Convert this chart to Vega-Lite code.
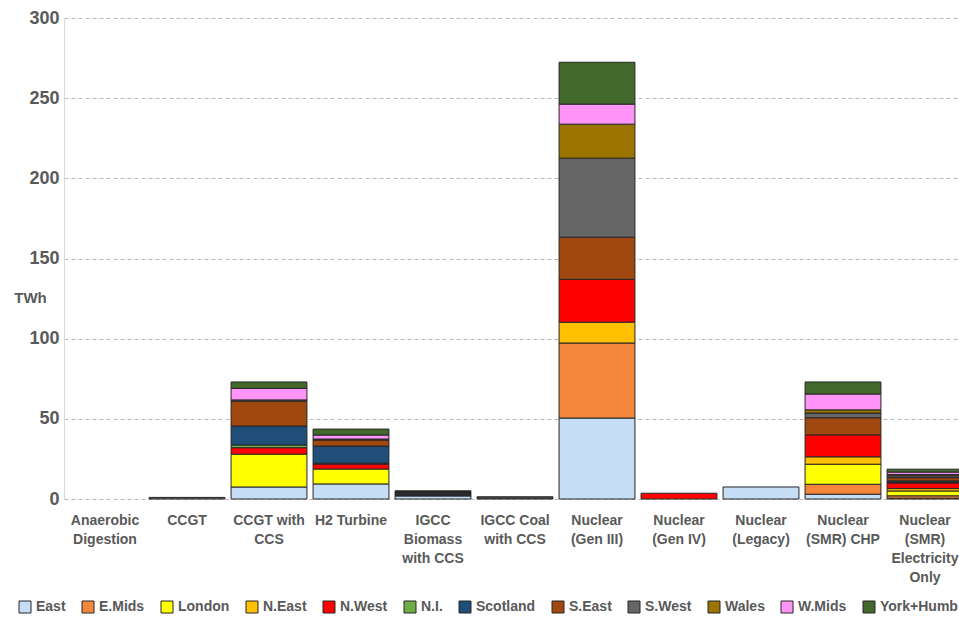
{
  "$schema": "https://vega.github.io/schema/vega-lite/v6.json",
  "autosize": "none",
  "width": 895,
  "height": 481,
  "padding": {"left": 64, "top": 18, "right": 0, "bottom": 118},
  "background": "white",
  "config": {
    "view": {"stroke": null},
    "font": "Liberation Sans"
  },
  "datasets": {
    "regionOrder": [
      {"region": "East", "rank": 1},
      {"region": "E.Mids", "rank": 2},
      {"region": "London", "rank": 3},
      {"region": "N.East", "rank": 4},
      {"region": "N.West", "rank": 5},
      {"region": "N.I.", "rank": 6},
      {"region": "Scotland", "rank": 7},
      {"region": "S.East", "rank": 8},
      {"region": "S.West", "rank": 9},
      {"region": "Wales", "rank": 10},
      {"region": "W.Mids", "rank": 11},
      {"region": "York+Humb", "rank": 12}
    ]
  },
  "data": {
    "values": [
      {"tech": "CCGT", "region": "S.West", "twh": 1.0},
      {"tech": "CCGT with CCS", "region": "East", "twh": 7.5},
      {"tech": "CCGT with CCS", "region": "London", "twh": 20.5},
      {"tech": "CCGT with CCS", "region": "N.West", "twh": 4.0},
      {"tech": "CCGT with CCS", "region": "N.I.", "twh": 1.7},
      {"tech": "CCGT with CCS", "region": "Scotland", "twh": 11.8},
      {"tech": "CCGT with CCS", "region": "S.East", "twh": 15.5},
      {"tech": "CCGT with CCS", "region": "S.West", "twh": 0.8},
      {"tech": "CCGT with CCS", "region": "W.Mids", "twh": 7.2},
      {"tech": "CCGT with CCS", "region": "York+Humb", "twh": 4.0},
      {"tech": "H2 Turbine", "region": "East", "twh": 9.4},
      {"tech": "H2 Turbine", "region": "London", "twh": 9.3},
      {"tech": "H2 Turbine", "region": "N.West", "twh": 3.1},
      {"tech": "H2 Turbine", "region": "N.I.", "twh": 0.5},
      {"tech": "H2 Turbine", "region": "Scotland", "twh": 10.7},
      {"tech": "H2 Turbine", "region": "S.East", "twh": 3.8},
      {"tech": "H2 Turbine", "region": "S.West", "twh": 0.6},
      {"tech": "H2 Turbine", "region": "W.Mids", "twh": 2.5},
      {"tech": "H2 Turbine", "region": "York+Humb", "twh": 3.7},
      {"tech": "IGCC Biomass with CCS", "region": "East", "twh": 1.9},
      {"tech": "IGCC Biomass with CCS", "region": "N.West", "twh": 0.4},
      {"tech": "IGCC Biomass with CCS", "region": "Scotland", "twh": 0.8},
      {"tech": "IGCC Biomass with CCS", "region": "S.East", "twh": 0.5},
      {"tech": "IGCC Biomass with CCS", "region": "S.West", "twh": 0.5},
      {"tech": "IGCC Biomass with CCS", "region": "Wales", "twh": 0.3},
      {"tech": "IGCC Biomass with CCS", "region": "W.Mids", "twh": 0.3},
      {"tech": "IGCC Biomass with CCS", "region": "York+Humb", "twh": 0.4},
      {"tech": "IGCC Coal with CCS", "region": "East", "twh": 0.6},
      {"tech": "IGCC Coal with CCS", "region": "S.West", "twh": 0.8},
      {"tech": "Nuclear (Gen III)", "region": "East", "twh": 50.5},
      {"tech": "Nuclear (Gen III)", "region": "E.Mids", "twh": 46.8},
      {"tech": "Nuclear (Gen III)", "region": "N.East", "twh": 13.0},
      {"tech": "Nuclear (Gen III)", "region": "N.West", "twh": 26.7},
      {"tech": "Nuclear (Gen III)", "region": "S.East", "twh": 26.3},
      {"tech": "Nuclear (Gen III)", "region": "S.West", "twh": 49.3},
      {"tech": "Nuclear (Gen III)", "region": "Wales", "twh": 21.2},
      {"tech": "Nuclear (Gen III)", "region": "W.Mids", "twh": 12.5},
      {"tech": "Nuclear (Gen III)", "region": "York+Humb", "twh": 26.1},
      {"tech": "Nuclear (Gen IV)", "region": "N.West", "twh": 3.6},
      {"tech": "Nuclear (Legacy)", "region": "East", "twh": 7.5},
      {"tech": "Nuclear (SMR) CHP", "region": "East", "twh": 3.0},
      {"tech": "Nuclear (SMR) CHP", "region": "E.Mids", "twh": 6.2},
      {"tech": "Nuclear (SMR) CHP", "region": "London", "twh": 12.5},
      {"tech": "Nuclear (SMR) CHP", "region": "N.East", "twh": 4.6},
      {"tech": "Nuclear (SMR) CHP", "region": "N.West", "twh": 13.7},
      {"tech": "Nuclear (SMR) CHP", "region": "S.East", "twh": 10.7},
      {"tech": "Nuclear (SMR) CHP", "region": "S.West", "twh": 2.9},
      {"tech": "Nuclear (SMR) CHP", "region": "Wales", "twh": 2.0},
      {"tech": "Nuclear (SMR) CHP", "region": "W.Mids", "twh": 9.9},
      {"tech": "Nuclear (SMR) CHP", "region": "York+Humb", "twh": 7.5},
      {"tech": "Nuclear (SMR) Electricity Only", "region": "East", "twh": 0.5},
      {"tech": "Nuclear (SMR) Electricity Only", "region": "E.Mids", "twh": 1.5},
      {"tech": "Nuclear (SMR) Electricity Only", "region": "London", "twh": 3.0},
      {"tech": "Nuclear (SMR) Electricity Only", "region": "N.East", "twh": 1.5},
      {"tech": "Nuclear (SMR) Electricity Only", "region": "N.West", "twh": 3.5},
      {"tech": "Nuclear (SMR) Electricity Only", "region": "N.I.", "twh": 0.3},
      {"tech": "Nuclear (SMR) Electricity Only", "region": "Scotland", "twh": 1.0},
      {"tech": "Nuclear (SMR) Electricity Only", "region": "S.East", "twh": 2.0},
      {"tech": "Nuclear (SMR) Electricity Only", "region": "S.West", "twh": 1.2},
      {"tech": "Nuclear (SMR) Electricity Only", "region": "Wales", "twh": 0.8},
      {"tech": "Nuclear (SMR) Electricity Only", "region": "W.Mids", "twh": 1.5},
      {"tech": "Nuclear (SMR) Electricity Only", "region": "York+Humb", "twh": 1.8}
    ]
  },
  "transform": [
    {"lookup": "region", "from": {"data": {"name": "regionOrder"}, "key": "region", "fields": ["rank"]}}
  ],
  "mark": {"type": "bar", "stroke": "#262626", "strokeWidth": 1},
  "encoding": {
    "x": {
      "field": "tech",
      "type": "nominal",
      "scale": {
        "domain": ["Anaerobic Digestion", "CCGT", "CCGT with CCS", "H2 Turbine", "IGCC Biomass with CCS", "IGCC Coal with CCS", "Nuclear (Gen III)", "Nuclear (Gen IV)", "Nuclear (Legacy)", "Nuclear (SMR) CHP", "Nuclear (SMR) Electricity Only"],
        "range": [0, 902],
        "paddingInner": 0.075,
        "paddingOuter": 0.0375
      },
      "axis": {
        "title": null,
        "labelAngle": 0,
        "domain": false,
        "ticks": false,
        "labelPadding": 14,
        "labelFont": "Liberation Sans",
        "labelFontSize": 14,
        "labelFontWeight": "bold",
        "labelColor": "#595959",
        "labelLineHeight": 19,
        "labelBaseline": "top",
        "labelLimit": 200,
        "labelExpr": "{'Anaerobic Digestion': ['Anaerobic', 'Digestion'], 'CCGT': 'CCGT', 'CCGT with CCS': ['CCGT with', 'CCS'], 'H2 Turbine': 'H2 Turbine', 'IGCC Biomass with CCS': ['IGCC', 'Biomass', 'with CCS'], 'IGCC Coal with CCS': ['IGCC Coal', 'with CCS'], 'Nuclear (Gen III)': ['Nuclear', '(Gen III)'], 'Nuclear (Gen IV)': ['Nuclear', '(Gen IV)'], 'Nuclear (Legacy)': ['Nuclear', '(Legacy)'], 'Nuclear (SMR) CHP': ['Nuclear', '(SMR) CHP'], 'Nuclear (SMR) Electricity Only': ['Nuclear', '(SMR)', 'Electricity', 'Only']}[datum.value]"
      }
    },
    "y": {
      "field": "twh",
      "type": "quantitative",
      "aggregate": "sum",
      "stack": "zero",
      "scale": {"domain": [0, 300], "nice": false},
      "axis": {
        "values": [0, 50, 100, 150, 200, 250, 300],
        "title": "TWh",
        "titleAngle": 0,
        "titleX": -34,
        "titleY": 279,
        "titleAlign": "center",
        "titleBaseline": "middle",
        "titleFont": "Liberation Sans",
        "titleFontSize": 15,
        "titleFontWeight": "bold",
        "titleColor": "#595959",
        "labelFont": "Liberation Sans",
        "labelFontSize": 18,
        "labelFontWeight": "bold",
        "labelColor": "#595959",
        "labelPadding": 5,
        "ticks": false,
        "domain": true,
        "domainColor": "#d9d9d9",
        "domainWidth": 1,
        "grid": true,
        "gridColor": "#b8b8b8",
        "gridDash": [4, 3],
        "gridWidth": 1
      }
    },
    "order": {"field": "rank", "type": "quantitative", "sort": "ascending"},
    "color": {
      "field": "region",
      "type": "nominal",
      "scale": {
        "domain": ["East", "E.Mids", "London", "N.East", "N.West", "N.I.", "Scotland", "S.East", "S.West", "Wales", "W.Mids", "York+Humb"],
        "range": ["#c6def5", "#f4873b", "#ffff00", "#ffc000", "#ff0000", "#70ad47", "#1f4e79", "#a0480f", "#666666", "#9c7500", "#fd94f6", "#43692c"]
      },
      "legend": {
        "title": null,
        "orient": "none",
        "direction": "horizontal",
        "columns": 12,
        "legendX": -46,
        "legendY": 582,
        "symbolType": "square",
        "symbolSize": 144,
        "symbolStrokeColor": "#262626",
        "symbolStrokeWidth": 1,
        "labelFont": "Liberation Sans",
        "labelFontSize": 14,
        "labelFontWeight": "bold",
        "labelColor": "#595959",
        "labelOffset": 4,
        "columnPadding": 14
      }
    }
  }
}
